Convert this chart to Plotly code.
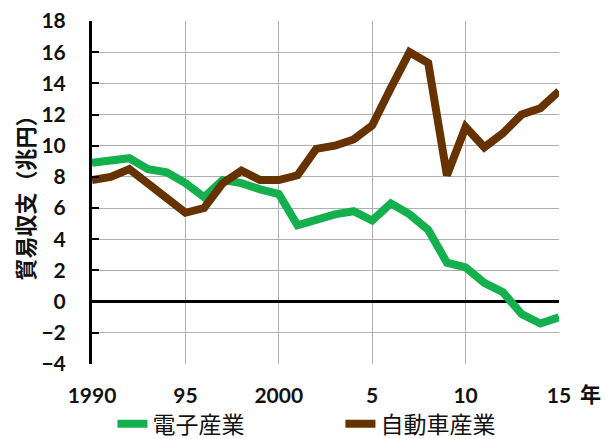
import plotly.graph_objects as go

years = list(range(1990, 2016))
electronics = [8.9, 9.1, 9.2, 8.5, 8.3, 7.6, 6.7, 7.8, 7.6, 7.2, 6.9, 4.9, 5.3, 5.6, 5.8,
               5.2, 6.3, 5.6, 4.6, 2.5, 2.2, 1.2, 0.6, -0.8, -1.4, -1.0]
automobile = [7.8, 8.0, 8.5, 7.6, 6.7, 5.7, 6.0, 7.6, 8.4, 7.8, 7.8, 8.1, 9.8, 10.0, 10.4,
              11.3, 13.7, 16.0, 15.3, 8.1, 11.2, 9.9, 10.8, 12.0, 12.4, 13.5]
x_tickvals = [1990, 1995, 2000, 2005, 2010, 2015]
x_ticktext = ["1990", "95", "2000", "5", "10", "15"]
y_tickvals = list(range(-4, 19, 2))
series_names = ["電子産業", "自動車産業"]
series_colors = ["#15B04E", "#663300"]

font_num = "Lato, 'Noto Sans CJK JP', sans-serif"
font_jp = "'Noto Sans CJK JP', sans-serif"

fig = go.Figure()
for name, vals, col in zip(series_names, [electronics, automobile], series_colors):
    fig.add_trace(go.Scatter(x=years, y=vals, mode="lines", name=name,
                             line=dict(color=col, width=8)))

fig.update_layout(
    width=607, height=439,
    margin=dict(l=92, r=48, t=21, b=75, autoexpand=False),
    paper_bgcolor="white", plot_bgcolor="white",
    showlegend=True,
    legend=dict(orientation="h", x=0.532, xanchor="center", y=-0.112, yanchor="top",
                font=dict(family=font_jp, size=23, color="#111"),
                itemwidth=30, entrywidth=183, entrywidthmode="pixels",
                tracegroupgap=0, bgcolor="rgba(0,0,0,0)", borderwidth=0),
    xaxis=dict(range=[1990, 2015], tickvals=x_tickvals, ticktext=x_ticktext,
               showgrid=True, gridcolor="#b0b0b0", gridwidth=1, automargin=False,
               showline=False, zeroline=False, ticks="",
               tickfont=dict(family=font_num, size=21, color="#111", weight="bold"),
               ticklabelstandoff=17),
    yaxis=dict(range=[-4, 18], tickvals=y_tickvals, automargin=False,
               showgrid=True, gridcolor="#b0b0b0", gridwidth=1,
               showline=True, linecolor="black", linewidth=3,
               zeroline=True, zerolinecolor="black", zerolinewidth=3,
               ticks="inside", ticklen=7, tickwidth=2, tickcolor="black",
               tickfont=dict(family=font_num, size=21, color="#111", weight="bold"),
               ticklabelstandoff=19,
               title=dict(text="貿易収支（兆円）", standoff=1,
                          font=dict(family=font_jp, size=22, color="#111", weight="bold"))),
)

fig.add_annotation(text="年", xref="x", x=2015, xshift=31, yref="paper", y=0, yshift=-46,
                   showarrow=False, font=dict(family=font_jp, size=21, color="#111", weight="bold"))

fig.write_html("out.html", config={"displayModeBar": False},
               post_script="document.body.style.margin='0';")
